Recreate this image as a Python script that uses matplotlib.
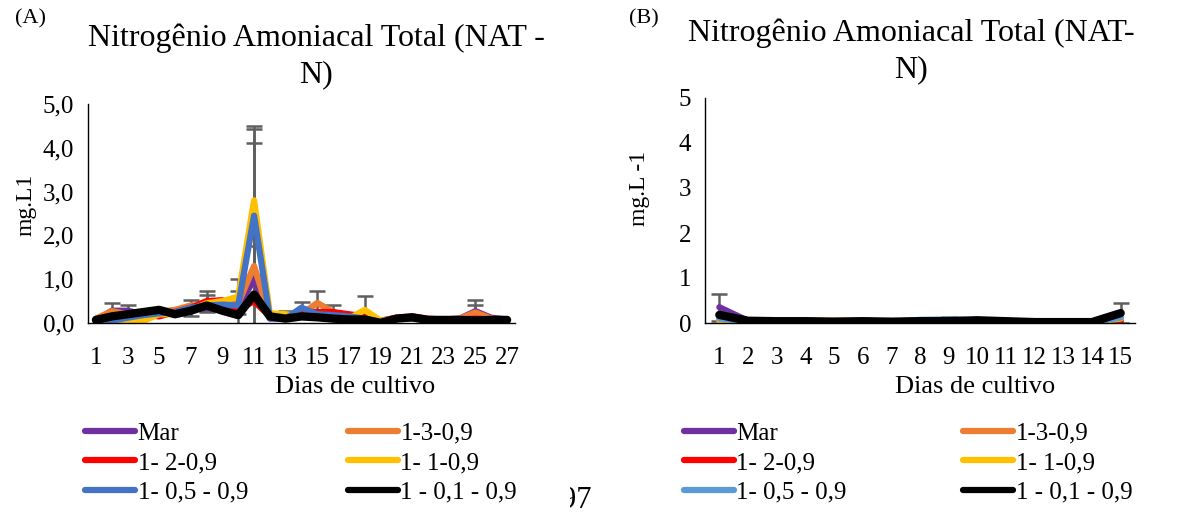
import numpy as np
import matplotlib
matplotlib.use("Agg")
import matplotlib.pyplot as plt
from matplotlib.transforms import Bbox

plt.rcParams['font.family'] = ['Liberation Serif', 'DejaVu Serif']

# ---- data -------------------------------------------------------------
series_names = ["Mar", "1-3-0,9", "1- 2-0,9", "1- 1-0,9", "1- 0,5 - 0,9", "1 - 0,1 - 0,9"]
colors_a = ["#7030A0", "#ED7D31", "#FF0000", "#FFC000", "#4472C4", "#000000"]
colors_b = ["#7030A0", "#ED7D31", "#FF0000", "#FFC000", "#5B9BD5", "#000000"]

days_a = list(range(1, 28))
mar_a   = [0.05, 0.28, 0.28, 0.20, 0.25, 0.20, 0.30, 0.35, 0.30, 0.35, 1.00, 0.10, 0.10, 0.20, 0.15, 0.15, 0.10, 0.10, 0.02, 0.10, 0.12, 0.08, 0.08, 0.10, 0.27, 0.12, 0.08]
t13_a   = [0.10, 0.27, 0.20, 0.20, 0.25, 0.30, 0.40, 0.40, 0.45, 0.45, 1.30, 0.15, 0.12, 0.20, 0.46, 0.25, 0.15, 0.15, 0.05, 0.12, 0.12, 0.08, 0.08, 0.10, 0.24, 0.10, 0.05]
t12_a   = [0.05, 0.10, 0.15, 0.20, 0.15, 0.25, 0.35, 0.50, 0.52, 0.30, 0.50, 0.15, 0.10, 0.25, 0.25, 0.25, 0.20, 0.15, 0.05, 0.12, 0.15, 0.10, 0.08, 0.08, 0.10, 0.08, 0.05]
t11_a   = [0.05, 0.10, 0.05, 0.05, 0.20, 0.20, 0.30, 0.45, 0.50, 0.60, 2.80, 0.22, 0.20, 0.15, 0.15, 0.12, 0.10, 0.30, 0.05, 0.10, 0.12, 0.06, 0.06, 0.05, 0.05, 0.03, 0.00]
t105_a  = [0.00, 0.05, 0.12, 0.18, 0.22, 0.25, 0.35, 0.40, 0.42, 0.40, 2.45, 0.12, 0.10, 0.35, 0.20, 0.18, 0.15, 0.10, 0.03, 0.10, 0.10, 0.06, 0.05, 0.05, 0.05, 0.05, 0.05]
t101_a  = [0.07, 0.15, 0.20, 0.25, 0.30, 0.20, 0.28, 0.40, 0.28, 0.18, 0.65, 0.15, 0.10, 0.15, 0.13, 0.10, 0.08, 0.08, 0.00, 0.10, 0.13, 0.07, 0.07, 0.07, 0.06, 0.07, 0.07]

# standard deviations (0 = bar hidden under the line)
sd_mar_a  = [0, 0, 0.12, 0, 0, 0, 0, 0, 0, 0, 0, 0, 0, 0, 0, 0, 0, 0, 0, 0, 0, 0, 0, 0, 0.15, 0, 0]
sd_t13_a  = [0, 0.19, 0, 0, 0, 0, 0, 0, 0, 0, 2.82, 0, 0, 0, 0.27, 0, 0, 0, 0, 0, 0, 0, 0, 0, 0.29, 0, 0]
sd_t12_a  = [0, 0, 0, 0, 0, 0, 0.18, 0.23, 0, 0.42, 0, 0, 0, 0, 0, 0.17, 0, 0, 0, 0, 0, 0, 0, 0, 0, 0, 0]
sd_t11_a  = [0, 0, 0, 0, 0, 0, 0, 0.20, 0, 0.40, 1.70, 0, 0.07, 0, 0, 0, 0, 0.31, 0, 0, 0, 0, 0, 0, 0, 0, 0]
sd_t105_a = [0, 0, 0, 0, 0, 0, 0.03, 0, 0, 0, 1.97, 0, 0, 0.14, 0, 0, 0, 0, 0, 0, 0, 0, 0, 0, 0, 0, 0]
sd_t101_a = [0, 0, 0, 0, 0, 0, 0, 0, 0, 0, 1.10, 0, 0, 0, 0, 0, 0, 0, 0, 0, 0, 0, 0, 0, 0, 0, 0]

days_b = list(range(1, 16))
mar_b   = [0.35, 0.05, 0.03, 0.03, 0.03, 0.03, 0.03, 0.05, 0.05, 0.05, 0.03, 0.02, 0.02, 0.02, 0.10]
t13_b   = [0.05, 0.03, 0.03, 0.05, 0.05, 0.05, 0.03, 0.03, 0.05, 0.07, 0.03, 0.02, 0.02, 0.02, 0.05]
t12_b   = [0.05, 0.03, 0.03, 0.03, 0.03, 0.03, 0.03, 0.05, 0.05, 0.05, 0.03, 0.02, 0.02, 0.02, 0.03]
t11_b   = [0.05, 0.03, 0.03, 0.05, 0.03, 0.03, 0.03, 0.05, 0.05, 0.05, 0.03, 0.02, 0.02, 0.02, 0.10]
t105_b  = [0.10, 0.03, 0.03, 0.05, 0.03, 0.03, 0.03, 0.07, 0.08, 0.07, 0.03, 0.02, 0.02, 0.02, 0.12]
t101_b  = [0.18, 0.05, 0.04, 0.04, 0.03, 0.04, 0.03, 0.04, 0.04, 0.06, 0.04, 0.02, 0.02, 0.02, 0.22]

sd_mar_b  = [0.30, 0, 0, 0, 0, 0, 0, 0, 0, 0, 0, 0, 0, 0, 0]
sd_t13_b  = [0, 0, 0, 0, 0, 0, 0, 0, 0, 0.03, 0, 0, 0, 0, 0]
sd_t12_b  = [0, 0, 0, 0, 0, 0, 0, 0, 0, 0, 0, 0, 0, 0, 0]
sd_t11_b  = [0, 0, 0, 0, 0, 0, 0, 0, 0, 0, 0, 0, 0, 0, 0]
sd_t105_b = [0, 0, 0, 0, 0, 0, 0, 0, 0.05, 0, 0, 0, 0, 0, 0]
sd_t101_b = [0, 0, 0, 0, 0, 0, 0, 0, 0, 0, 0, 0, 0, 0, 0.23]

xticks_a = list(range(1, 28, 2))
yticks_a = [0, 1, 2, 3, 4, 5]
ytick_labels_a = ["0,0", "1,0", "2,0", "3,0", "4,0", "5,0"]
yticks_b = [0, 1, 2, 3, 4, 5]

# ---- figure -----------------------------------------------------------
W, H = 1193, 519
fig = plt.figure(figsize=(W / 100, H / 100), dpi=100)

def px_axes(x0, x1, ytop, ybot):
    return fig.add_axes([x0 / W, 1 - ybot / H, (x1 - x0) / W, (ybot - ytop) / H])

ax_a = px_axes(88, 515, 104, 323)
ax_b = px_axes(705, 1135, 98, 323)

ERR_COLOR = "#5f5f5f"
TICK_FS = 18


def draw_panel(ax, days, values, sds, colors):
    days = np.asarray(days)
    handles = []
    for name, vals, sd, col in zip(series_names, values, sds, colors):
        vals = np.asarray(vals)
        sd = np.asarray(sd)
        m = sd > 0
        if m.any():
            ax.errorbar(days[m], vals[m], yerr=sd[m], fmt="none", ecolor=ERR_COLOR,
                        elinewidth=1.8, capsize=6, capthick=1.8, zorder=1.5)
        lw = 6.0 if col == "#000000" else 4.5
        h, = ax.plot(days, vals, color=col, lw=lw, solid_joinstyle="round",
                     solid_capstyle="round", label=name, zorder=2)
        handles.append(h)
    for s in ("top", "right"):
        ax.spines[s].set_visible(False)
    for s in ("left", "bottom"):
        ax.spines[s].set_color("#000000")
        ax.spines[s].set_linewidth(1.0)
    ax.tick_params(axis="x", length=0, labelsize=TICK_FS, pad=17)
    ax.tick_params(axis="y", length=0, labelsize=TICK_FS, pad=10)
    ax.set_ylim(0, 5)
    ax.set_xlim(0.5, len(days) + 0.5)
    ax.set_xlabel("Dias de cultivo", fontsize=19)
    return handles


def place_label(ax, x_px, y_px, which):
    # put an axis title centred at a given figure pixel position
    inv = ax.transAxes.inverted()
    x, y = inv.transform(fig.transFigure.transform((x_px / W, 1 - y_px / H)))
    if which == "x":
        ax.xaxis.set_label_coords(x, y)
        ax.xaxis.label.set_va("center")
    else:
        ax.yaxis.set_label_coords(x, y)
        ax.yaxis.label.set_va("center")


vals_a = [mar_a, t13_a, t12_a, t11_a, t105_a, t101_a]
sds_a = [sd_mar_a, sd_t13_a, sd_t12_a, sd_t11_a, sd_t105_a, sd_t101_a]
h_a = draw_panel(ax_a, days_a, vals_a, sds_a, colors_a)
ax_a.set_xticks(xticks_a)
ax_a.set_yticks(yticks_a)
ax_a.set_yticklabels(ytick_labels_a)
ax_a.set_ylabel("mg.L1", fontsize=17)

vals_b = [mar_b, t13_b, t12_b, t11_b, t105_b, t101_b]
sds_b = [sd_mar_b, sd_t13_b, sd_t12_b, sd_t11_b, sd_t105_b, sd_t101_b]
h_b = draw_panel(ax_b, days_b, vals_b, sds_b, colors_b)
ax_b.set_xticks(days_b)
ax_b.set_yticks(yticks_b)
ax_b.set_ylabel("mg.L -1", fontsize=17)

place_label(ax_a, 355, 387, "x")
place_label(ax_b, 975, 387, "x")
place_label(ax_a, 26, 205, "y")
place_label(ax_b, 640, 188, "y")

# legends: two columns, row order Mar / 1-3 ; 1-2 / 1-1 ; 1-0,5 / 1-0,1
order = [0, 2, 4, 1, 3, 5]
for ax, hs, x0, cs in ((ax_a, h_a, 75, 4.0), (ax_b, h_b, 674, 4.65)):
    leg = ax.legend([hs[i] for i in order], [series_names[i] for i in order],
                    ncol=2, loc="upper left",
                    bbox_to_anchor=(x0 / W, 1 - 412 / H), bbox_transform=fig.transFigure,
                    frameon=False, fontsize=18, handlelength=2.0, handletextpad=0.1,
                    columnspacing=cs, labelspacing=0.28, borderaxespad=0)
    for ln in leg.get_lines():
        ln.set_linewidth(4.5)

# titles and panel tags
fig.text(316 / W, 1 - 56 / H, "Nitrogênio Amoniacal Total (NAT -\nN)", ha="center",
         va="center", fontsize=23, linespacing=1.33)
fig.text(911 / W, 1 - 51 / H, "Nitrogênio Amoniacal Total (NAT-\nN)", ha="center",
         va="center", fontsize=23, linespacing=1.33)
fig.text(31 / W, 1 - 19 / H, "(A)", ha="center", va="center", fontsize=16)
fig.text(644 / W, 1 - 19 / H, "(B)", ha="center", va="center", fontsize=16)

# page number, partly cut at its left edge
pg = fig.text(561 / W, 1 - 500 / H, "97", ha="left", va="center", fontsize=22)
pg.set_clip_box(Bbox.from_extents(570, 0, W, H))
pg.set_clip_on(True)

fig.savefig("out.png", dpi=100, facecolor="white")
